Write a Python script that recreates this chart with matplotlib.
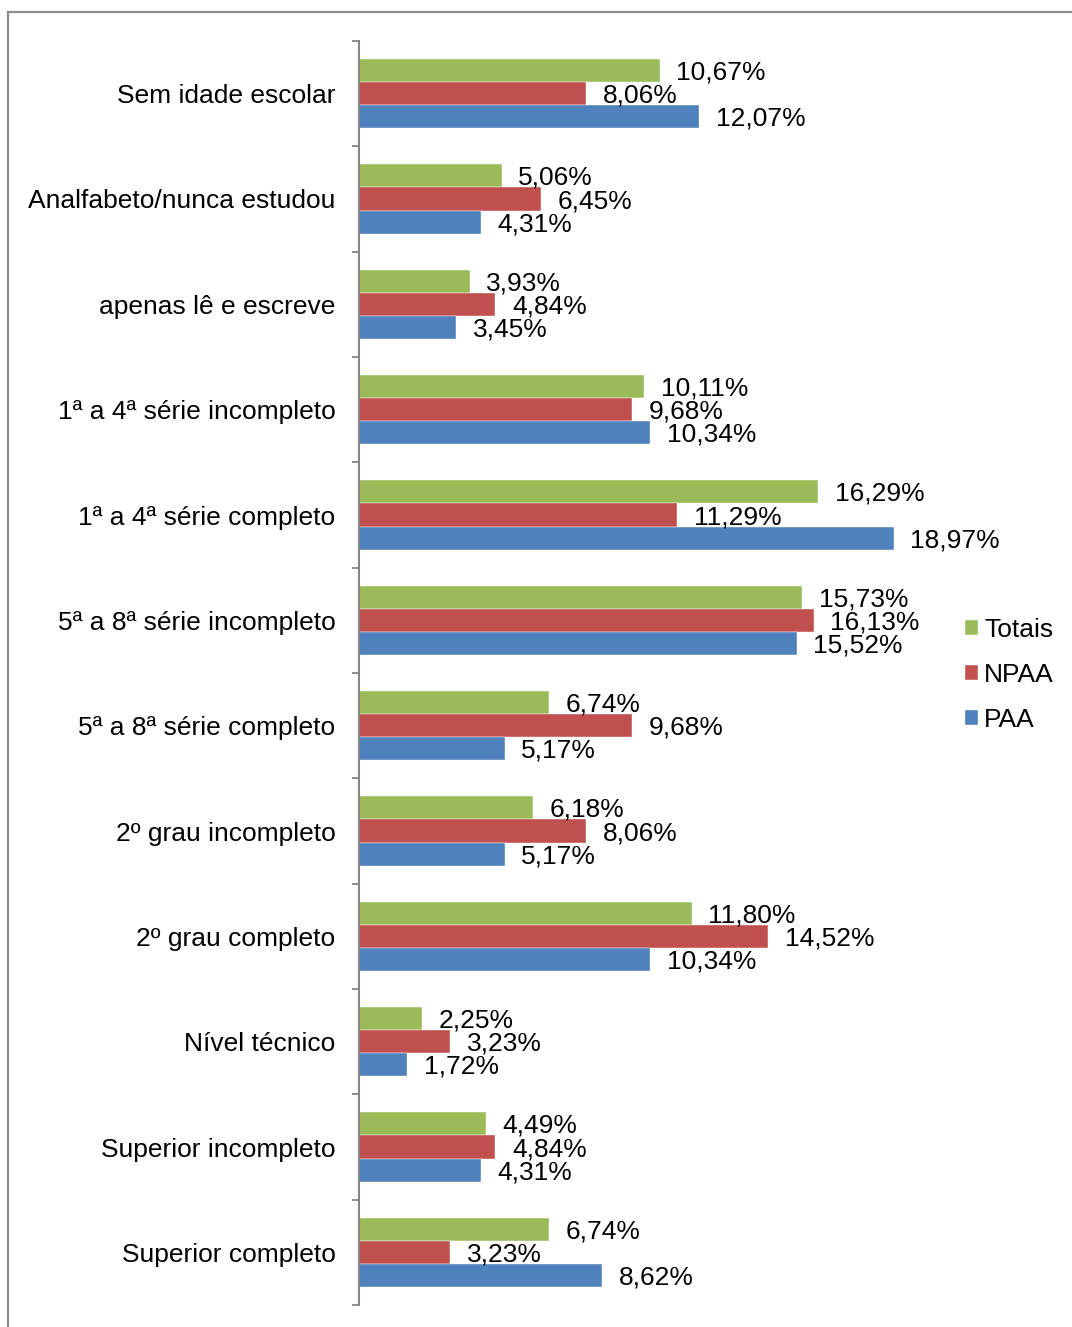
import matplotlib.pyplot as plt
import numpy as np
from matplotlib.lines import Line2D

plt.rcParams['font.family'] = ['Liberation Sans', 'DejaVu Sans']

# categories, top to bottom
categories = ['Sem idade escolar', 'Analfabeto/nunca estudou', 'apenas lê e escreve',
              '1ª a 4ª série incompleto', '1ª a 4ª série completo',
              '5ª a 8ª série incompleto', '5ª a 8ª série completo',
              '2º grau incompleto', '2º grau completo', 'Nível técnico',
              'Superior incompleto', 'Superior completo']
totais = [10.67, 5.06, 3.93, 10.11, 16.29, 15.73, 6.74, 6.18, 11.80, 2.25, 4.49, 6.74]
npaa = [8.06, 6.45, 4.84, 9.68, 11.29, 16.13, 9.68, 8.06, 14.52, 3.23, 4.84, 3.23]
paa = [12.07, 4.31, 3.45, 10.34, 18.97, 15.52, 5.17, 5.17, 10.34, 1.72, 4.31, 8.62]

series = [('Totais', totais, '#9BBB59'), ('NPAA', npaa, '#C0504D'), ('PAA', paa, '#4F81BD')]
fs = 19

fig = plt.figure(figsize=(10.72, 13.27), dpi=100)
ax = fig.add_axes([359 / 1072, 1 - 1305 / 1327, 592 / 1072, 1264 / 1327])

y = np.arange(len(categories))
h = 0.22
for k, (name, vals, col) in enumerate(series):
    pos = y + (k - 1) * h
    ax.barh(pos, vals, height=h, color=col, label=name, edgecolor='white', linewidth=0.3)
    for p, v in zip(pos, vals):
        ax.annotate(f"{v:.2f}".replace('.', ',') + '%', (v, p), xytext=(12, -1.5),
                    textcoords='offset points', va='center', ha='left',
                    fontsize=fs, annotation_clip=False)

ax.set_xlim(0, 21)
ax.set_ylim(len(categories) - 0.5, -0.5)
ax.set_xticks([])
ax.set_yticks(np.arange(len(categories) + 1) - 0.5)
ax.set_yticklabels([])
ax.set_yticks(y, minor=True)
ax.set_yticklabels(categories, minor=True, fontsize=fs)
ax.tick_params(axis='y', which='major', length=5, width=1.3, color='#868686', direction='out')
ax.tick_params(axis='y', which='minor', length=0, pad=17)
for s in ['top', 'right', 'bottom']:
    ax.spines[s].set_visible(False)
ax.spines['left'].set_color('#868686')
ax.spines['left'].set_linewidth(1.5)

fig.legend(loc='upper left', bbox_to_anchor=(954 / 1072, 1 - 607 / 1327), frameon=False,
           fontsize=fs, handlelength=0.5, handleheight=0.5, handletextpad=0.25,
           labelspacing=0.8, borderaxespad=0)

# outer frame
fig.add_artist(Line2D([8 / 1072, 8 / 1072], [0, 1 - 12 / 1327], color='#8c8c8c', lw=1.6))
fig.add_artist(Line2D([8 / 1072, 1], [1 - 12 / 1327, 1 - 12 / 1327], color='#8c8c8c', lw=1.6))

plt.savefig('out.png', dpi=100)
